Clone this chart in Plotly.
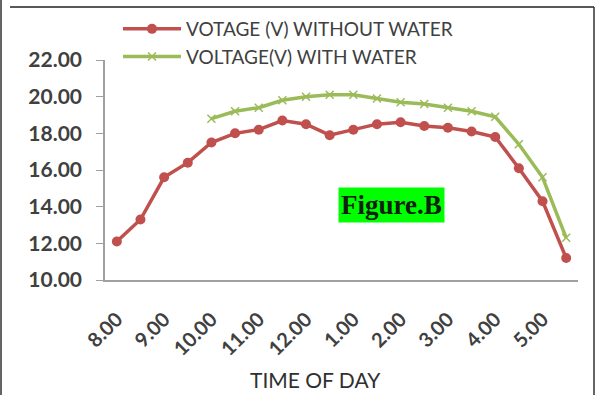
import plotly.graph_objects as go

time_labels = ["8.00", "8.30", "9.00", "9.30", "10.00", "10.30", "11.00", "11.30",
               "12.00", "12.30", "1.00", "1.30", "2.00", "2.30", "3.00", "3.30",
               "4.00", "4.30", "5.00", "5.30"]
voltage_without_water = [12.1, 13.3, 15.6, 16.4, 17.5, 18.0, 18.2, 18.7, 18.5, 17.9,
                         18.2, 18.5, 18.6, 18.4, 18.3, 18.1, 17.8, 16.1, 14.3, 11.2]
voltage_with_water = [None, None, None, None, 18.8, 19.2, 19.4, 19.8, 20.0, 20.1,
                      20.1, 19.9, 19.7, 19.6, 19.4, 19.2, 18.9, 17.4, 15.6, 12.3]
shown_ticks = ["8.00", "9.00", "10.00", "11.00", "12.00", "1.00", "2.00", "3.00", "4.00", "5.00"]
y_ticks = [10, 12, 14, 16, 18, 20, 22]

x_idx = list(range(len(time_labels)))
tick_idx = [time_labels.index(t) for t in shown_ticks]

# pixel -> paper helpers for decoration placement (plot area 105..578 x 60..280)
def px(x):
    return (x - 105) / 473

def py(y):
    return (280 - y) / 220

fig = go.Figure()
fig.add_trace(go.Scatter(
    x=x_idx, y=voltage_without_water, mode="lines+markers",
    name="VOTAGE (V) WITHOUT WATER",
    line=dict(color="#C0504D", width=3.5),
    marker=dict(symbol="circle", size=10, color="#C0504D"),
))
fig.add_trace(go.Scatter(
    x=x_idx, y=voltage_with_water, mode="lines+markers",
    name="VOLTAGE(V) WITH WATER",
    line=dict(color="#9BBB59", width=3.5),
    marker=dict(symbol="x-thin", size=8, line=dict(color="#9BBB59", width=1.5), color="#9BBB59"),
))

fig.update_layout(
    width=596, height=395,
    margin=dict(l=105, r=18, t=60, b=115, autoexpand=False),
    paper_bgcolor="white", plot_bgcolor="white",
    font=dict(family="Lato", color="#404040"),
    showlegend=True,
    legend=dict(x=px(118), y=1 - 10 / 395, xref="paper", yref="container",
                xanchor="left", yanchor="top",
                orientation="v", bgcolor="rgba(0,0,0,0)",
                font=dict(family="Lato", size=19, color="#404040"),
                itemwidth=58, tracegroupgap=0),
    xaxis=dict(range=[-0.5, len(time_labels) - 0.5], tickmode="array",
               tickvals=tick_idx, ticktext=shown_ticks, tickangle=-45,
               showgrid=False, zeroline=False, showline=True, linecolor="#A0A0A0",
               linewidth=1.5, ticks="", ticklabelstandoff=18,
               tickfont=dict(family="Lato", size=20, color="#404040", weight="bold")),
    yaxis=dict(range=[10, 22], tickmode="array", tickvals=y_ticks,
               ticktext=[f"{v:.2f}" for v in y_ticks],
               showgrid=False, zeroline=False, showline=True, linecolor="#A0A0A0",
               linewidth=1.5, ticks="outside", ticklen=7, tickcolor="#A0A0A0",
               ticklabelstandoff=10,
               tickfont=dict(family="Lato", size=21, color="#404040", weight="bold")),
    shapes=[
        dict(type="line", xref="paper", yref="paper", x0=px(10), x1=px(594), y0=py(7), y1=py(7),
             line=dict(color="#202020", width=1.5)),
        dict(type="line", xref="paper", yref="paper", x0=px(594), x1=px(594), y0=py(7), y1=py(395),
             line=dict(color="#303030", width=1.5)),
        dict(type="line", xref="paper", yref="paper", x0=px(1), x1=px(1), y0=py(0), y1=py(395),
             line=dict(color="#303030", width=1.5)),
    ],
    annotations=[
        dict(text="<b>Figure.B</b>", xref="paper", yref="paper", x=px(391), y=py(205),
             showarrow=False, bgcolor="#00FF00",
             font=dict(family="Liberation Serif", size=27, color="#102010"), borderpad=2),
        dict(text="TIME OF DAY", xref="paper", yref="paper", x=px(315), y=py(379),
             xanchor="center", yanchor="middle",
             showarrow=False, font=dict(family="Lato", size=21, color="#303030")),
    ],
)

fig.write_html("out.html")
